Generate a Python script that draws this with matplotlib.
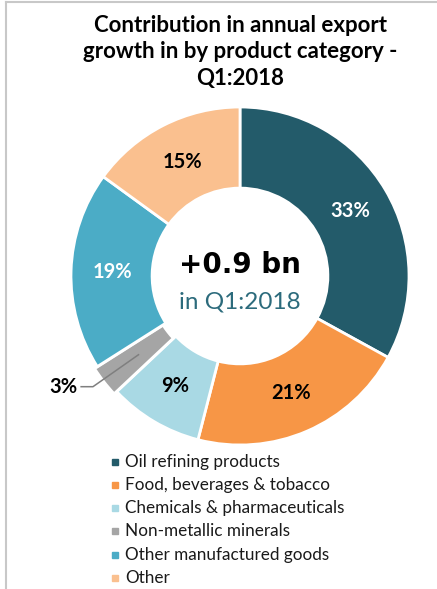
import matplotlib
matplotlib.use("Agg")
import matplotlib.pyplot as plt
from matplotlib.lines import Line2D
import numpy as np

plt.rcParams["font.family"] = ["Lato", "DejaVu Sans"]

categories = ["Oil refining products", "Food, beverages & tobacco",
              "Chemicals & pharmaceuticals", "Non-metallic minerals",
              "Other manufactured goods", "Other"]
shares = [33, 21, 9, 3, 19, 15]
colors = ["#235B6A", "#F79646", "#A9D9E4", "#A5A5A5", "#4BACC6", "#FAC08F"]
label_colors = ["white", "black", "black", "black", "white", "black"]
explode = [0, 0, 0, 0.02, 0, 0]

W, H = 437, 589
fig = plt.figure(figsize=(W / 100, H / 100), dpi=100)

# donut: centre (240, 276) px, outer radius 169 px
cx, cy, r = 240, 276, 169
half = 1.1 * r
ax = fig.add_axes([(cx - half) / W, (H - cy - half) / H, 2 * half / W, 2 * half / H])
wedges, _ = ax.pie(shares, colors=colors, startangle=90, counterclock=False,
                   explode=explode,
                   wedgeprops=dict(width=0.48, edgecolor="white", linewidth=2))
ax.set_xlim(-1.1, 1.1)
ax.set_ylim(-1.1, 1.1)
ax.axis("off")

ang = 90.0
for w, s, lc in zip(wedges, shares, label_colors):
    mid = np.deg2rad(ang - s * 3.6 / 2)
    ang -= s * 3.6
    if s < 5:
        # small slice gets a leader line to an outside label
        p = (0.76 * np.cos(mid), 0.76 * np.sin(mid))
        ax.plot([p[0], -0.87, -0.94], [p[1], -0.655, -0.655], color="#7F7F7F", lw=1.1)
        ax.text(-0.96, -0.655, f"{s}%", ha="right", va="center",
                fontsize=14.5, fontweight="bold", color="black")
        continue
    ax.text(0.755 * np.cos(mid), 0.755 * np.sin(mid), f"{s}%", ha="center", va="center",
            fontsize=14.5, fontweight="bold", color=lc)

ax.text(0, 0.065, "+0.9 bn", ha="center", va="center", fontsize=20,
        fontweight="bold", color="black", family="DejaVu Sans")
ax.text(0, -0.155, "in Q1:2018", ha="center", va="center", fontsize=17.5,
        color="#2C6B7C")

fig.text(cx / W, 1 - 52 / H, "Contribution in annual export\ngrowth in by product category -\nQ1:2018",
         ha="center", va="center", fontsize=16, fontweight="bold", linespacing=1.33)

# legend rows
leg_y = [462, 485, 508, 531, 555, 578]
for name, c, y in zip(categories, colors, leg_y):
    fig.patches.append(plt.Rectangle((112 / W, 1 - (y + 3) / H), 6 / W, 6 / H,
                                     transform=fig.transFigure, color=c))
    fig.text(125 / W, 1 - y / H, name, ha="left", va="center", fontsize=12.3, color="#1a1a1a")

# chart frame edges
fig.add_artist(Line2D([6 / W, 6 / W], [0, 1 - 1.5 / H], color="#C8C8C8", lw=1.5))
fig.add_artist(Line2D([6 / W, 1], [1 - 1.5 / H, 1 - 1.5 / H], color="#C8C8C8", lw=1.5))

fig.savefig("out.png", dpi=100)
